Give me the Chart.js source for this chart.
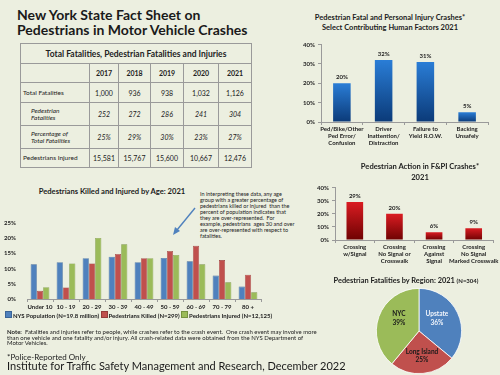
<!DOCTYPE html>
<html><head><meta charset="utf-8">
<script src="https://cdn.jsdelivr.net/npm/chart.js@4.4.0/dist/chart.umd.min.js"></script>
<style>
html,body{margin:0;padding:0;}
body{width:500px;height:375px;background:#ECEFE0;position:relative;overflow:hidden;font-family:Lato,'Open Sans',sans-serif;color:#1c1c1c;}
.abs{position:absolute;white-space:nowrap;}
canvas{position:absolute;}
#tbl{position:absolute;left:20px;top:43px;border-collapse:collapse;table-layout:fixed;width:231px;}
#tbl td{border:1px solid #9a9a9a;padding:0;font-size:7px;text-align:center;color:#222;overflow:hidden;}
#tbl td.lab{text-align:left;font-size:6.5px;padding-left:2px;line-height:7.5px;}
#tbl td.ind{padding-left:10px;font-style:italic;}
#tbl td.it{font-style:italic;}
#tbl tr.hd td{font-weight:bold;}
#tbl td.ttl{font-weight:bold;font-size:8.5px;}
.sw{display:inline-block;width:5px;height:5px;vertical-align:-0.5px;margin-right:1px;}
</style></head><body>

<div class="abs" style="left:17px;top:7px;font-weight:bold;font-size:14px;line-height:15px;color:#1a1a1a;">New York State Fact Sheet on<br>Pedestrians in Motor Vehicle Crashes</div>

<table id="tbl"></table>

<div class="abs" style="left:290px;top:13px;width:200px;text-align:center;font-weight:bold;font-size:7.5px;line-height:10px;">Pedestrian Fatal and Personal Injury Crashes*<br>Select Contributing Human Factors 2021</div>
<canvas id="factors" width="210" height="115" style="left:285px;top:38px;"></canvas>

<div class="abs" style="left:12px;top:186px;width:200px;text-align:center;font-weight:bold;font-size:7.6px;line-height:10px;">Pedestrians Killed and Injured by Age: 2021</div>
<div class="abs" style="left:200px;top:191px;font-size:5.5px;line-height:6px;color:#222;">In interpreting these data, any age<br>group with a greater percentage of<br>pedestrians killed or injured&nbsp; than the<br>percent of population indicates that<br>they are over-represented.&nbsp; For<br>example, pedestrians&nbsp; ages 30 and over<br>are over-represented with respect to<br>fatalities.</div>
<svg class="abs" style="left:0;top:0;" width="500" height="375"><line x1="195" y1="208" x2="177" y2="230" stroke="#4F81BD" stroke-width="1.4"/><polygon points="173,235 175,227 180,231" fill="#4F81BD"/></svg>
<canvas id="ages" width="265" height="95" style="left:0px;top:215px;"></canvas>
<div class="abs" id="ageLegend" style="left:5px;top:311px;font-weight:bold;font-size:6px;line-height:8px;color:#222;"></div>

<div class="abs" style="left:320px;top:160.5px;width:200px;text-align:center;font-weight:bold;font-size:7.6px;line-height:11px;">Pedestrian Action in F&amp;PI Crashes*<br>2021</div>
<canvas id="action" width="200" height="84" style="left:300px;top:181px;"></canvas>

<div class="abs" style="left:306px;top:276px;width:200px;text-align:center;font-weight:bold;font-size:7.4px;line-height:10px;">Pedestrian Fatalities by Region: 2021 <span style="font-size:6px;">(N=304)</span></div>
<canvas id="region" width="100" height="86" style="left:369px;top:288px;"></canvas>

<div class="abs" style="left:7px;top:329px;font-size:6px;line-height:5.5px;color:#222;"><b>Note:</b>&nbsp; Fatalities and injuries refer to people, while crashes refer to the crash event.&nbsp; One crash event may involve more<br>than one vehicle and one fatality and/or injury. All crash-related data were obtained from the NYS Department of<br>Motor Vehicles.</div>
<div class="abs" style="left:7px;top:352px;font-size:8px;line-height:10px;color:#222;">*Police-Reported Only</div>
<div class="abs" style="left:7px;top:360px;font-size:11px;line-height:12px;color:#1a1a1a;">Institute for Traffic Safety Management and Research, December 2022</div>

<script>
// ---- table data ----
const tableYears = ['2017', '2018', '2019', '2020', '2021'];
const totalFatalities = [1000, 936, 938, 1032, 1126];
const pedFatalities = [252, 272, 286, 241, 304];
const pctOfTotal = [25, 29, 30, 23, 27];
const pedInjured = [15581, 15767, 15600, 10667, 12476];

// ---- age chart data ----
const ageGroups = ['Under 10', '10 - 19', '20 - 29', '30 - 39', '40 - 49', '50 - 59', '60 - 69', '70 - 79', '80 +'];
const nysPopulation = [11.4, 12.1, 13.4, 13.9, 12.1, 13.5, 12.4, 7.7, 4.1];
const pedKilledByAge = [2.7, 3.8, 11.7, 14.8, 13.4, 15.8, 17.5, 12.8, 8.0];
const pedInjuredByAge = [3.9, 11.7, 20.1, 18.0, 13.4, 14.5, 11.4, 5.5, 2.2];
const ageSeriesNames = ['NYS Population (N=19.8 million)', 'Pedestrians Killed (N=299)', 'Pedestrians Injured (N=12,125)'];

// ---- contributing factors ----
const factorLabels = [['Ped/Bike/Other', 'Ped Error/', 'Confusion'], ['Driver', 'Inattention/', 'Distraction'], ['Failure to', 'Yield R.O.W.'], ['Backing', 'Unsafely']];
const factorValues = [20, 32, 31, 5];

// ---- pedestrian action ----
const actionLabels = [['Crossing', 'w/Signal'], ['Crossing', 'No Signal or', 'Crosswalk'], ['Crossing', 'Against', 'Signal'], ['Crossing', 'No Signal', 'Marked Crosswalk']];
const actionValues = [29, 20, 6, 9];

// ---- region pie ----
const regionLabels = ['Upstate', 'Long Island', 'NYC'];
const regionValues = [36, 25, 39];

// ---------- build table ----------
(function () {
  const fmt = n => n.toLocaleString('en-US');
  const t = document.getElementById('tbl');
  const widths = [69, 29, 32, 33, 35, 33];
  let h = '<colgroup>' + widths.map(w => '<col style="width:' + w + 'px">').join('') + '</colgroup>';
  h += '<tr style="height:20px"><td class="ttl" colspan="6">Total Fatalities, Pedestrian Fatalities and Injuries</td></tr>';
  h += '<tr class="hd" style="height:19px"><td></td>' + tableYears.map(y => '<td>' + y + '</td>').join('') + '</tr>';
  h += '<tr style="height:20px"><td class="lab">Total Fatalities</td>' + totalFatalities.map(v => '<td>' + fmt(v) + '</td>').join('') + '</tr>';
  h += '<tr style="height:23px"><td class="lab ind">Pedestrian<br>Fatalities</td>' + pedFatalities.map(v => '<td class="it">' + fmt(v) + '</td>').join('') + '</tr>';
  h += '<tr style="height:23px"><td class="lab ind">Percentage of<br>Total Fatalities</td>' + pctOfTotal.map(v => '<td class="it">' + v + '%</td>').join('') + '</tr>';
  h += '<tr style="height:19px"><td class="lab">Pedestrians Injured</td>' + pedInjured.map(v => '<td>' + fmt(v) + '</td>').join('') + '</tr>';
  t.innerHTML = h;
})();

// ---------- helpers ----------
const FONT = "Lato, 'Open Sans', sans-serif";
function barGradient(top, bottom) {
  return (c) => {
    const chart = c.chart;
    const ys = chart.scales && chart.scales.y;
    if (!ys || !chart.chartArea || c.type !== 'data') return bottom;
    const y0 = ys.getPixelForValue(c.raw), y1 = ys.getPixelForValue(0);
    if (!isFinite(y0) || !isFinite(y1) || y0 === y1) return bottom;
    const g = chart.ctx.createLinearGradient(0, y0, 0, y1);
    g.addColorStop(0, top);
    g.addColorStop(1, bottom);
    return g;
  };
}
const barValueLabels = {
  id: 'barValueLabels',
  afterDatasetsDraw(chart, args, opts) {
    const ctx = chart.ctx;
    chart.data.datasets.forEach((ds, di) => {
      chart.getDatasetMeta(di).data.forEach((bar, i) => {
        ctx.save();
        ctx.font = 'bold 6px ' + FONT;
        ctx.fillStyle = '#222';
        ctx.textAlign = 'center';
        ctx.textBaseline = 'middle';
        ctx.fillText(ds.data[i] + '%', bar.x, bar.y - 6);
        ctx.restore();
      });
    });
  }
};
const pctTick = v => v + '%';
function smallBarOptions(yWidth, xHeight, pad) {
  return {
    responsive: false, animation: false,
    layout: { padding: pad },
    plugins: { legend: { display: false }, tooltip: { enabled: false } },
    scales: {
      x: {
        afterFit: s => { s.height = xHeight; },
        grid: { display: true, drawOnChartArea: false, drawTicks: true, tickLength: 3, color: '#9a9a9a' },
        border: { display: true, color: '#9a9a9a' },
        ticks: { font: { size: 6, weight: 'bold', family: FONT, lineHeight: 1.17 }, color: '#222', padding: 1, maxRotation: 0, autoSkip: false }
      },
      y: {
        min: 0, max: 40,
        afterFit: s => { s.width = yWidth; },
        grid: { display: true, drawOnChartArea: false, drawTicks: true, tickLength: 3, color: '#9a9a9a' },
        border: { display: true, color: '#9a9a9a' },
        ticks: { stepSize: 10, callback: pctTick, font: { size: 6, weight: 'bold', family: FONT }, color: '#222', padding: 3 }
      }
    }
  };
}

// ---------- contributing factors ----------
new Chart(document.getElementById('factors'), {
  type: 'bar',
  data: { labels: factorLabels, datasets: [{ data: factorValues, backgroundColor: barGradient('#2A7DD6', '#0B3A78'), barPercentage: 0.42, categoryPercentage: 1 }] },
  options: smallBarOptions(36, 31, { top: 5, right: 7, left: 0, bottom: 0 }),
  plugins: [barValueLabels]
});

// ---------- pedestrian action ----------
new Chart(document.getElementById('action'), {
  type: 'bar',
  data: { labels: actionLabels, datasets: [{ data: actionValues, backgroundColor: barGradient('#DA1C22', '#6E0202'), barPercentage: 0.42, categoryPercentage: 1 }] },
  options: smallBarOptions(35, 25, { top: 5, right: 5, left: 0, bottom: 0 }),
  plugins: [barValueLabels]
});

// ---------- ages ----------
const ageColors = ['#4F81BD', '#C0504D', '#9BBB59'];
const ageBorders = ['#3A6497', '#943B39', '#76923F'];
new Chart(document.getElementById('ages'), {
  type: 'bar',
  data: {
    labels: ageGroups,
    datasets: [nysPopulation, pedKilledByAge, pedInjuredByAge].map((d, i) => ({
      label: ageSeriesNames[i], data: d, backgroundColor: ageColors[i], borderColor: ageBorders[i], borderWidth: 0.6,
      barPercentage: 1, categoryPercentage: 0.72
    }))
  },
  options: {
    responsive: false, animation: false,
    layout: { padding: { top: 8, right: 4, left: 0, bottom: 0 } },
    plugins: { legend: { display: false }, tooltip: { enabled: false } },
    scales: {
      x: {
        afterFit: s => { s.height = 11; },
        grid: { display: true, drawOnChartArea: false, drawTicks: true, tickLength: 3, color: '#9a9a9a' },
        border: { display: true, color: '#9a9a9a' },
        ticks: { font: { size: 6, weight: 'bold', family: FONT }, color: '#222', padding: 1, maxRotation: 0, autoSkip: false }
      },
      y: {
        min: 0, max: 25,
        afterFit: s => { s.width = 27; },
        grid: { display: false },
        border: { display: false },
        ticks: { stepSize: 5, callback: pctTick, font: { size: 6, weight: 'bold', family: FONT }, color: '#222', padding: 3 }
      }
    }
  }
});
document.getElementById('ageLegend').innerHTML = ageSeriesNames.map((n, i) =>
  '<span class="sw" style="background:' + ageColors[i] + ';border:0.6px solid ' + ageBorders[i] + '"></span>' + n).join('&nbsp;');

// ---------- region pie ----------
const pieLabelStyles = [
  { dx: 0.42, dy: -0.29, color: '#F2F5FB' },
  { dx: 0.07, dy: 0.58, color: '#1a1a1a' },
  { dx: -0.47, dy: -0.30, color: '#1a1a1a' }
];
const pieLabels = {
  id: 'pieLabels',
  afterDatasetsDraw(chart) {
    const ctx = chart.ctx;
    chart.getDatasetMeta(0).data.forEach((arc, i) => {
      const st = pieLabelStyles[i];
      const r = arc.outerRadius;
      const x = arc.x + st.dx * r, y = arc.y + st.dy * r;
      const lines = [chart.data.labels[i], chart.data.datasets[0].data[i] + '%'];
      ctx.save();
      ctx.font = 'bold 6.5px ' + FONT;
      ctx.fillStyle = st.color;
      ctx.textAlign = 'center';
      ctx.textBaseline = 'middle';
      lines.forEach((t, k) => ctx.fillText(t, x, y + (k - 0.5) * 8.5));
      ctx.restore();
    });
  }
};
new Chart(document.getElementById('region'), {
  type: 'pie',
  data: { labels: regionLabels, datasets: [{ data: regionValues, backgroundColor: ['#4F81BD', '#C0504D', '#9BBB59'], borderColor: '#ffffff', borderWidth: 0.8 }] },
  options: {
    responsive: false, animation: false,
    plugins: { legend: { display: false }, tooltip: { enabled: false } }
  },
  plugins: [pieLabels]
});
</script>
</body></html>
